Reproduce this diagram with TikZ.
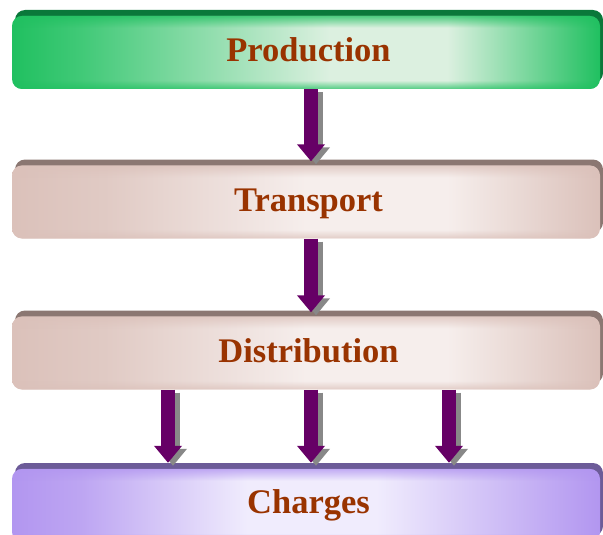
\documentclass[tikz,border=0pt]{standalone}
\usepackage{fontspec}
\setmainfont{Liberation Serif}
\usetikzlibrary{arrows.meta,shadows,fadings}
\definecolor{txt}{RGB}{153,51,0}
\definecolor{gedge}{RGB}{32,192,96}
\definecolor{glight}{RGB}{220,240,224}
\definecolor{gdark}{RGB}{10,120,58}
\definecolor{pedge}{RGB}{219,193,186}
\definecolor{plight}{RGB}{246,238,236}
\definecolor{pdark}{RGB}{139,119,114}
\definecolor{vedge}{RGB}{178,150,240}
\definecolor{vlight}{RGB}{240,236,253}
\definecolor{vdark}{RGB}{108,91,152}
\definecolor{arrc}{RGB}{102,0,102}
\definecolor{arrs}{RGB}{136,136,136}
\pgfdeclarehorizontalshading{gshade}{100bp}{color(0bp)=(gedge); color(25bp)=(gedge); color(31bp)=(gedge!85!white); color(52bp)=(glight); color(62bp)=(glight); color(75bp)=(gedge); color(100bp)=(gedge)}
\pgfdeclarehorizontalshading{pshade}{100bp}{color(0bp)=(pedge); color(25bp)=(pedge); color(33bp)=(pedge!85!white); color(50bp)=(plight); color(62bp)=(plight); color(75bp)=(pedge); color(100bp)=(pedge)}
\pgfdeclarehorizontalshading{vshade}{100bp}{color(0bp)=(vedge); color(25bp)=(vedge); color(31bp)=(vedge!85!white); color(45bp)=(vlight); color(56bp)=(vlight); color(75bp)=(vedge); color(100bp)=(vedge)}
\pgfdeclareverticalshading{vfs}{100bp}{color(0bp)=(pgftransparent!25); color(25bp)=(pgftransparent!25); color(31bp)=(pgftransparent!100); color(67bp)=(pgftransparent!100); color(75bp)=(pgftransparent!25); color(100bp)=(pgftransparent!25)}
\pgfdeclarefading{edgefade}{\pgfuseshading{vfs}}
\tikzset{
  box/.style={rounded corners=10pt, minimum width=588pt, minimum height=73pt, inner sep=0pt,
    text=txt, font=\bfseries\fontsize{34.5}{38}\selectfont, text height=24pt, text depth=5pt,
    execute at begin node=\hspace*{5pt}},
  sheen/.style={postaction={path fading=edgefade, fill=#1}},
  arr/.style={line width=14pt, arrc, -{Triangle[width=27pt,length=17pt]}},
  arrsh/.style={line width=14pt, arrs, -{Triangle[width=27pt,length=17pt]}, transform canvas={xshift=5pt,yshift=-3pt}}
}
\begin{document}
\begin{tikzpicture}[x=1pt,y=-1pt]
\useasboundingbox (0,0) rectangle (603,535);
\clip (0,0) rectangle (603,535);
\node[box, shading=gshade, sheen=gedge, drop shadow={shadow xshift=3pt, shadow yshift=6pt, fill=gdark, opacity=1}] (prod) at (306,52.5) {Production};
\node[box, shading=pshade, sheen=pedge, drop shadow={shadow xshift=3pt, shadow yshift=6pt, fill=pdark, opacity=1}] (trans) at (306,202) {Transport};
\node[box, shading=pshade, sheen=pedge, drop shadow={shadow xshift=3pt, shadow yshift=6pt, fill=pdark, opacity=1}] (dist) at (306,353) {Distribution};
\node[box, text depth=9pt, shading=vshade, sheen=vedge, drop shadow={shadow xshift=3pt, shadow yshift=6pt, fill=vdark, opacity=1}] (chg) at (306,505.5) {Charges};
% arrow shadows
\draw[arrsh, shorten >=4pt] ([xshift=5pt]prod.south) -- ([xshift=5pt]trans.north);
\draw[arrsh, shorten >=4pt] ([xshift=5pt]trans.south) -- ([xshift=5pt]dist.north);
\draw[arrsh, shorten >=6pt] ([xshift=-138pt]dist.south) -- ([xshift=-138pt]chg.north);
\draw[arrsh, shorten >=6pt] ([xshift=5pt]dist.south) -- ([xshift=5pt]chg.north);
\draw[arrsh, shorten >=6pt] ([xshift=143pt]dist.south) -- ([xshift=143pt]chg.north);
% arrows
\draw[arr, shorten >=4pt] ([xshift=5pt]prod.south) -- ([xshift=5pt]trans.north);
\draw[arr, shorten >=4pt] ([xshift=5pt]trans.south) -- ([xshift=5pt]dist.north);
\draw[arr, shorten >=6pt] ([xshift=-138pt]dist.south) -- ([xshift=-138pt]chg.north);
\draw[arr, shorten >=6pt] ([xshift=5pt]dist.south) -- ([xshift=5pt]chg.north);
\draw[arr, shorten >=6pt] ([xshift=143pt]dist.south) -- ([xshift=143pt]chg.north);
\end{tikzpicture}
\end{document}
